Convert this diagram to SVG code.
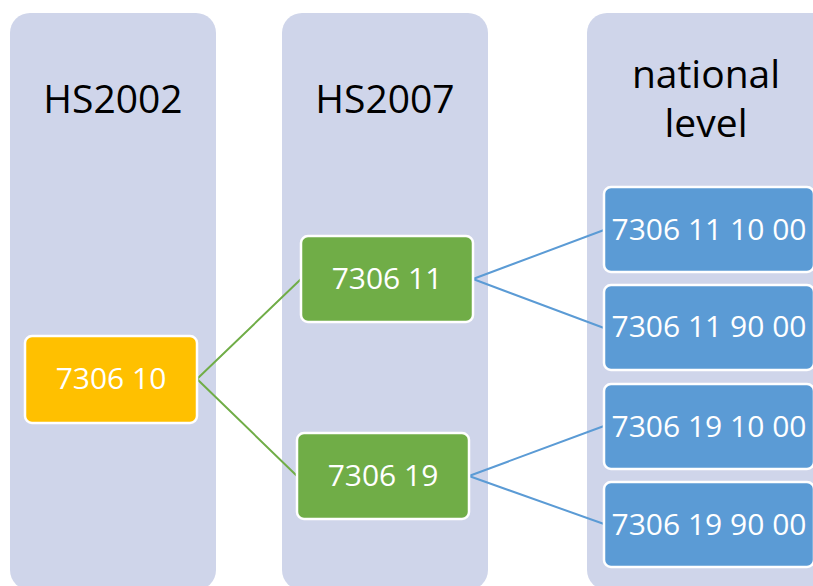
<svg xmlns="http://www.w3.org/2000/svg" width="813" height="586" viewBox="0 0 813 586">
<style>
.col{fill:#CFD5EA}
.hdr{font-family:"Open Sans","Liberation Sans",sans-serif;font-size:39px;fill:#000;text-anchor:middle}
.box{stroke:#fff;stroke-width:2.5}
.lbl{font-family:"Open Sans","Liberation Sans",sans-serif;font-size:30px;fill:#fff;text-anchor:middle}
.g{stroke:#70AD47;stroke-width:2;fill:none}
.b{stroke:#5B9BD5;stroke-width:2;fill:none}
</style>
<rect width="813" height="586" fill="#fff"/>
<g id="col-hs2002"><rect class="col" x="10" y="13" width="206" height="577" rx="20"/><text class="hdr" x="113" y="113">HS2002</text></g>
<g id="col-hs2007"><rect class="col" x="282" y="13" width="206" height="577" rx="20"/><text class="hdr" x="385" y="113">HS2007</text></g>
<g id="col-national"><rect class="col" x="587" y="13" width="250" height="577" rx="20"/><text class="hdr" x="706" y="88">national</text><text class="hdr" x="706" y="137">level</text></g>
<g id="connectors">
<path class="g" d="M197,379 L301,279 M197,379 L297,476"/>
<path class="b" d="M473,279 L604,230 M473,279 L604,328 M469,476 L604,426 M469,476 L604,524"/>
</g>
<g id="n730610"><rect class="box" x="25" y="336" width="172" height="87" rx="7" fill="#FFC000"/><text class="lbl" x="111" y="389">7306 10</text></g>
<g id="n730611"><rect class="box" x="301" y="236" width="172" height="86" rx="7" fill="#70AD47"/><text class="lbl" x="387" y="289">7306 11</text></g>
<g id="n730619"><rect class="box" x="297" y="433" width="172" height="86" rx="7" fill="#70AD47"/><text class="lbl" x="383" y="486">7306 19</text></g>
<g id="n73061110"><rect class="box" x="604" y="187" width="210" height="85" rx="7" fill="#5B9BD5"/><text class="lbl" x="709" y="240">7306 11 10 00</text></g>
<g id="n73061190"><rect class="box" x="604" y="285" width="210" height="85" rx="7" fill="#5B9BD5"/><text class="lbl" x="709" y="337">7306 11 90 00</text></g>
<g id="n73061910"><rect class="box" x="604" y="384" width="210" height="85" rx="7" fill="#5B9BD5"/><text class="lbl" x="709" y="437">7306 19 10 00</text></g>
<g id="n73061990"><rect class="box" x="604" y="482" width="210" height="85" rx="7" fill="#5B9BD5"/><text class="lbl" x="709" y="535">7306 19 90 00</text></g>
</svg>
